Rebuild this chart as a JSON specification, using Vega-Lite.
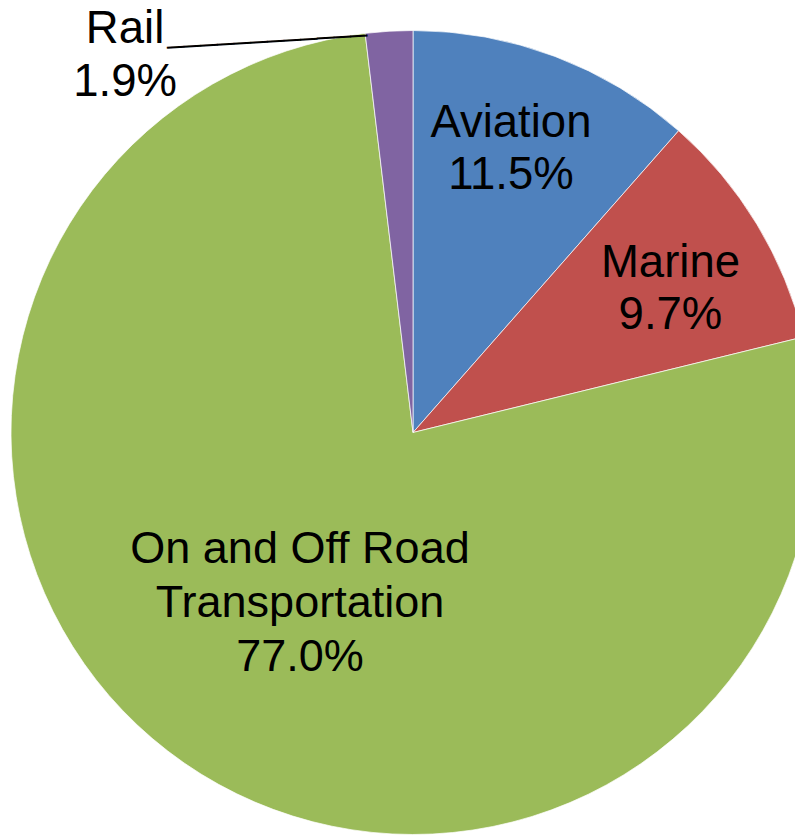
{
  "$schema": "https://vega.github.io/schema/vega-lite/v6.json",
  "autosize": "none",
  "width": 764,
  "height": 807,
  "padding": {"left": 31, "top": 29, "right": 0, "bottom": 0},
  "background": "white",
  "config": {"view": {"stroke": null}, "text": {"font": "Liberation Sans"}},
  "data": {"values": [
    {"category": "Aviation", "value": 11.5, "label": "Aviation\n11.5%"},
    {"category": "Marine", "value": 9.7, "label": "Marine\n9.7%"},
    {"category": "On and Off Road Transportation", "value": 77.0, "label": "On and Off Road\nTransportation\n77.0%"},
    {"category": "Rail", "value": 1.9, "label": "Rail\n1.9%"}
  ]},
  "encoding": {
    "theta": {"field": "value", "type": "quantitative", "stack": true},
    "color": {"field": "category", "type": "nominal", "legend": null,
      "scale": {"domain": ["Aviation", "Marine", "On and Off Road Transportation", "Rail"],
                "range": ["#4F81BD", "#C0504D", "#9BBB59", "#8064A2"]}}
  },
  "layer": [
    {"mark": {"type": "arc", "radius": 402, "stroke": "white", "strokeWidth": 1, "strokeOpacity": 0.7}},
    {"mark": {"type": "text", "radius": 300, "dx": -8, "dy": -29, "fontSize": 45.5, "lineHeight": 52, "lineBreak": "\n", "baseline": "middle"},
     "encoding": {"text": {"condition": {"test": "datum.category === 'Aviation'", "field": "label"}, "value": ""}, "color": {"value": "black"}}},
    {"mark": {"type": "text", "radius": 294, "dx": 6, "dy": -17, "fontSize": 45.5, "lineHeight": 52, "lineBreak": "\n", "baseline": "middle"},
     "encoding": {"text": {"condition": {"test": "datum.category === 'Marine'", "field": "label"}, "value": ""}, "color": {"value": "black"}}},
    {"mark": {"type": "text", "radius": 202, "dx": 2, "dy": -50, "fontSize": 45, "lineHeight": 54, "lineBreak": "\n", "baseline": "middle"},
     "encoding": {"text": {"condition": {"test": "datum.category === 'On and Off Road Transportation'", "field": "label"}, "value": ""}, "color": {"value": "black"}}},
    {"mark": {"type": "text", "radius": 402, "dx": -264, "dy": -2, "fontSize": 45.5, "lineHeight": 53, "lineBreak": "\n", "baseline": "middle"},
     "encoding": {"text": {"condition": {"test": "datum.category === 'Rail'", "field": "label"}, "value": ""}, "color": {"value": "black"}}},
    {"mark": {"type": "text", "radius": 402, "dx": -22, "dy": -2, "angle": 356.5, "align": "right", "baseline": "alphabetic", "fontSize": 30},
     "encoding": {"text": {"condition": {"test": "datum.category === 'Rail'", "value": "____________"}, "value": ""}, "color": {"value": "black"}}}
  ]
}
